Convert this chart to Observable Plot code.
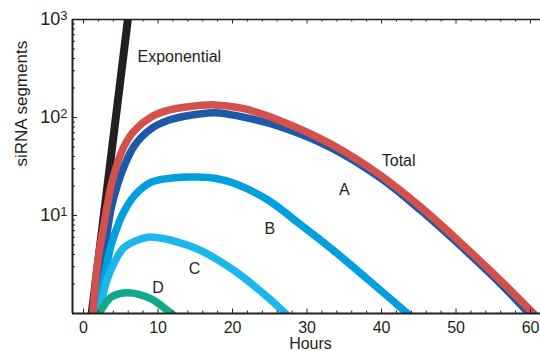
<!DOCTYPE html>
<html><head><meta charset="utf-8">
<script src="https://cdn.jsdelivr.net/npm/d3@7"></script>
<script src="https://cdn.jsdelivr.net/npm/@observablehq/plot@0.6"></script>
<style>
html,body{margin:0;padding:0;background:#fff;}
</style>
</head><body><div id="chart"></div>
<script>
// ---- data ----
const expHours   = [1.0, 1.1, 2.0, 3.05, 4.0, 4.7, 5.3, 5.95, 6.5];
const expValues  = [0.87, 1, 3.6, 16, 62, 168, 395, 1000, 2190];

const totalHours  = [1.25, 1.9, 2.8, 3.7, 4.6, 5.5, 6.85, 9.08, 11.3, 13.56, 17.6, 21.5, 26.4, 33.2, 39.9, 45.2, 50.6, 56, 60.4];
const totalValues = [1, 3.34, 8.55, 20.2, 35, 51.8, 73.7, 101, 118, 127, 134.5, 123, 92.7, 53.6, 25.6, 12.3, 5.28, 2.16, 1];

const aHours  = [1.83, 2.37, 3.05, 3.7, 4.6, 5.5, 6.85, 9.08, 11.3, 13.56, 17.6, 21.5, 26.4, 33.2, 39.9, 45.2, 50.6, 56, 59.8];
const aValues = [1, 2.6, 5.8, 11.7, 21, 32.4, 51.8, 76.7, 93, 103, 112, 101, 80.7, 49.3, 24, 11.4, 4.9, 2.0, 1];

const bHours  = [2.0, 2.82, 3.7, 4.6, 5.5, 6.85, 9.08, 13.1, 15.7, 17.6, 20.2, 24.7, 29.1, 33.6, 38.1, 43.5];
const bValues = [1, 2.44, 4.94, 7.9, 11.2, 16, 21.9, 24.6, 24.6, 24.0, 21.3, 14.5, 8.1, 4.37, 2.25, 1];

const cHours  = [2.15, 3.05, 4.16, 5.5, 8.6, 10.5, 12.66, 15.7, 20.2, 24.7, 27.1];
const cValues = [1, 2.09, 3.34, 4.75, 6.0, 5.85, 5.34, 4.4, 2.75, 1.47, 1];

const dHours  = [2.1, 2.6, 3.7, 5.95, 9.08, 11.3, 11.8];
const dValues = [1, 1.16, 1.47, 1.63, 1.41, 1.07, 1];

const labelNames  = ["Exponential", "Total", "A", "B", "C", "D"];
const labelHours  = [7.25, 42.3, 35.0, 25.0, 14.9, 10.0];
const labelValues = [419, 36.4, 18.4, 7.37, 2.88, 1.82];

const xMajorTicks = [0, 10, 20, 30, 40, 50, 60];
const xMinorTicks = d3.range(0, 61, 2).filter(v => v % 10 !== 0);
const yMajorTicks = [1, 10, 100, 1000];
const yLabelTicks = [10, 100, 1000];
const yMinorTicks = [1, 10, 100].flatMap(b => [2,3,4,5,6,7,8,9].map(m => m * b));
const xDomain = [-1.48, 61.34];
const yDomain = [1, 1000];

// ---- build ----
const toRows = (h, v) => h.map((x, i) => ({x, y: v[i]}));
const series = [
  {rows: toRows(expHours, expValues), color: "#231f20", w: 8},
  {rows: toRows(aHours, aValues), color: "#1c5aa8", w: 7.5},
  {rows: toRows(bHours, bValues), color: "#00a0df", w: 7.5},
  {rows: toRows(cHours, cValues), color: "#1bb7ec", w: 7.5},
  {rows: toRows(dHours, dValues), color: "#0fa98a", w: 7.5},
  {rows: toRows(totalHours, totalValues), color: "#d4504b", w: 7.5}
];
const labels = labelNames.map((t, i) => ({t, x: labelHours[i], y: labelValues[i]}));

const W = 540, H = 351, mL = 72, mR = 0, mT = 19, mB = 38;
const innerW = W - mL - mR, innerH = H - mT - mB;
const ink = "#231f20";

const svg = Plot.plot({
  width: W, height: H,
  marginLeft: mL, marginRight: mR, marginTop: mT, marginBottom: mB,
  style: {fontFamily: '"Liberation Sans", Arial, Helvetica, sans-serif', fontSize: "16px", background: "#fff", color: ink},
  x: {domain: xDomain},
  y: {type: "log", domain: yDomain},
  marks: [
    ...series.map(s => Plot.line(s.rows, {x: "x", y: "y", stroke: s.color, strokeWidth: s.w, curve: "catmull-rom", strokeLinecap: "square", clip: true})),
    Plot.text(labels.filter(d => d.t === "Exponential"), {x: "x", y: "y", text: "t", textAnchor: "start", fill: ink, fontSize: 16}),
    Plot.text(labels.filter(d => d.t !== "Exponential"), {x: "x", y: "y", text: "t", textAnchor: "middle", fill: ink, fontSize: 16}),
    // inward tick marks
    Plot.tickX(xMinorTicks, {x: d => d, insetTop: innerH - 2.5, stroke: ink, strokeWidth: 1}),
    Plot.tickX(xMajorTicks, {x: d => d, insetTop: innerH - 4.5, stroke: ink, strokeWidth: 1}),
    Plot.tickX(xMinorTicks, {x: d => d, insetBottom: innerH - 2.5, stroke: ink, strokeWidth: 1}),
    Plot.tickX(xMajorTicks, {x: d => d, insetBottom: innerH - 4.5, stroke: ink, strokeWidth: 1}),
    Plot.tickY(yMinorTicks, {y: d => d, insetRight: innerW - 3, stroke: ink, strokeWidth: 1}),
    Plot.tickY(yMajorTicks, {y: d => d, insetRight: innerW - 5, stroke: ink, strokeWidth: 1}),
    // axis lines
    Plot.ruleX([xDomain[0]], {stroke: ink, strokeWidth: 2}),
    Plot.ruleY([yDomain[0]], {stroke: ink, strokeWidth: 2}),
    Plot.ruleY([yDomain[1]], {stroke: ink, strokeWidth: 1.3}),
    // tick labels
    Plot.axisX({ticks: xMajorTicks, tickSize: 0, tickPadding: 8, fontSize: 16, label: null, fill: ink}),
    Plot.axisY({ticks: yLabelTicks, tickSize: 0, tickPadding: 5, fontSize: 18, label: null, fill: ink,
      tickFormat: d => "10^" + Math.round(Math.log10(d))}),
    // axis titles
    Plot.text(["siRNA segments"], {text: d => d, frameAnchor: "left", dx: -51, rotate: -90, fontSize: 17, fill: ink}),
    Plot.text(["Hours"], {text: d => d, frameAnchor: "bottom", dx: 4, dy: 35, fontSize: 16, fill: ink})
  ]
});

// superscript exponents on y tick labels
svg.querySelectorAll('[aria-label="y-axis tick label"] text').forEach(t => {
  const s = t.textContent;
  const [base, exp] = s.split("^");
  if (exp === undefined) return;
  t.textContent = "";
  const ns = "http://www.w3.org/2000/svg";
  const b = document.createElementNS(ns, "tspan");
  b.textContent = base;
  const e = document.createElementNS(ns, "tspan");
  e.textContent = exp;
  e.setAttribute("dy", "-0.42em");
  e.setAttribute("font-size", "13");
  t.appendChild(b); t.appendChild(e);
});
document.getElementById("chart").appendChild(svg);
</script>
</body></html>
